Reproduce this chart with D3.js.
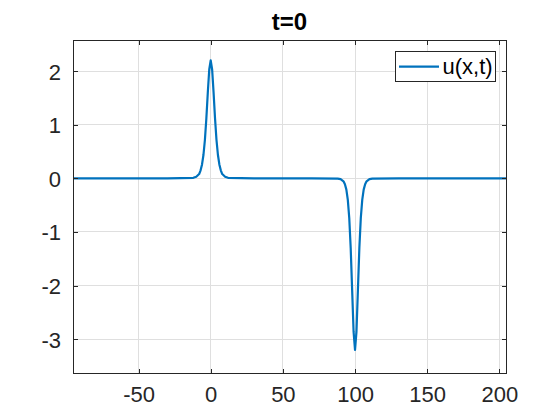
<!DOCTYPE html>
<html>
<head>
<meta charset="utf-8">
<script src="https://cdn.jsdelivr.net/npm/d3@7"></script>
<style>
  body { margin: 0; background: #fff; }
  svg { display: block; font-family: "Liberation Sans", Arial, sans-serif; }
</style>
</head>
<body>
<svg id="chart"></svg>
<script>
const titleText = "t=0"
const legendLabel = "u(x,t)"
const xTicks = [-50, 0, 50, 100, 150, 200]
const yTicks = [-3, -2, -1, 0, 1, 2]
const xPoints = [-95.4, -30, -12, -10, -8, -7, -6, -5, -4, -3, -2, -1, 0, 1, 2, 3, 4, 5, 6, 7, 8, 10, 12, 30,
                 70, 88, 90, 92, 93, 94, 95, 96, 97, 98, 99, 100, 101, 102, 103, 104, 105, 106, 107, 108, 110, 112, 130, 204.6]
const uValues = [0, 0, 0.01, 0.03, 0.08, 0.15, 0.26, 0.44, 0.72, 1.12, 1.60, 2.03, 2.20, 2.03, 1.60, 1.12, 0.72, 0.44, 0.26, 0.15, 0.08, 0.03, 0.01, 0,
                 0, -0.004, -0.014, -0.055, -0.11, -0.21, -0.40, -0.74, -1.30, -2.08, -2.86, -3.20, -2.86, -2.08, -1.30, -0.74, -0.40, -0.21, -0.11, -0.055, -0.014, -0.004, 0, 0]

const data = xPoints.map((x, i) => ({ x: x, u: uValues[i] }))

// Canvas and axes box (MATLAB-like figure)
const W = 560, H = 420
const box = { left: 73, right: 506, top: 40, bottom: 373 }
const axisColor = "#262626"
const gridColor = "#dfdfdf"
const lineColor = "#0072bd"
const fontSize = 22
const tickLen = 4.5
const plainFormat = d => String(d)   // keeps the ASCII hyphen, no decimals

const svg = d3.select("#chart").attr("width", W).attr("height", H)

const xScale = d3.scaleLinear().domain([-95.4, 204.6]).range([box.left, box.right])
const yScale = d3.scaleLinear().domain([-3.63, 2.58]).range([box.bottom, box.top])

// Grid lines
svg.append("g").selectAll("line").data(xTicks).enter().append("line")
    .attr("x1", d => xScale(d)).attr("x2", d => xScale(d))
    .attr("y1", box.top).attr("y2", box.bottom)
    .attr("stroke", gridColor).attr("stroke-width", 1)
    .attr("shape-rendering", "crispEdges")
svg.append("g").selectAll("line").data(yTicks).enter().append("line")
    .attr("x1", box.left).attr("x2", box.right)
    .attr("y1", d => yScale(d)).attr("y2", d => yScale(d))
    .attr("stroke", gridColor).attr("stroke-width", 1)
    .attr("shape-rendering", "crispEdges")

// Data line
const line = d3.line().x(d => xScale(d.x)).y(d => yScale(d.u))
svg.append("path")
    .datum(data)
    .attr("d", line)
    .attr("fill", "none")
    .attr("stroke", lineColor)
    .attr("stroke-width", 2.2)
    .attr("stroke-linejoin", "round")

// Axes: bottom/left with labels, top/right ticks only (inward ticks)
const xAxis = d3.axisBottom(xScale).tickValues(xTicks).tickFormat(plainFormat).tickSizeInner(-tickLen).tickSizeOuter(0).tickPadding(12)
const yAxis = d3.axisLeft(yScale).tickValues(yTicks).tickFormat(plainFormat).tickSizeInner(-tickLen).tickSizeOuter(0).tickPadding(12)
const xAxisTop = d3.axisTop(xScale).tickValues(xTicks).tickSizeInner(-tickLen).tickSizeOuter(0).tickFormat("")
const yAxisRight = d3.axisRight(yScale).tickValues(yTicks).tickSizeInner(-tickLen).tickSizeOuter(0).tickFormat("")

const styleAxis = g => {
    g.select(".domain").remove()
    g.selectAll("line").attr("stroke", axisColor).attr("shape-rendering", "crispEdges")
    g.selectAll("text").attr("fill", axisColor).attr("font-size", fontSize)
        .attr("font-family", "'Liberation Sans', Arial, sans-serif")
}

svg.append("g").attr("transform", "translate(0," + box.bottom + ")").call(xAxis).call(styleAxis)
    .selectAll("text").attr("dy", "0.78em")
svg.append("g").attr("transform", "translate(" + box.left + ",0)").call(yAxis).call(styleAxis)
    .selectAll("text").attr("dy", "0.36em")
svg.append("g").attr("transform", "translate(0," + box.top + ")").call(xAxisTop).call(styleAxis)
svg.append("g").attr("transform", "translate(" + box.right + ",0)").call(yAxisRight).call(styleAxis)

// Axes box
svg.append("rect")
    .attr("x", box.left + 0.5).attr("y", box.top + 0.5)
    .attr("width", box.right - box.left).attr("height", box.bottom - box.top)
    .attr("fill", "none").attr("stroke", axisColor).attr("stroke-width", 1)

// Title
svg.append("text")
    .attr("x", (box.left + box.right) / 2)
    .attr("y", 29.5)
    .attr("text-anchor", "middle")
    .attr("font-size", 24)
    .attr("font-weight", "bold")
    .attr("fill", "#000")
    .text(titleText)

// Legend
const legend = svg.append("g")
legend.append("rect")
    .attr("x", 395.5).attr("y", 51.5).attr("width", 100).attr("height", 30)
    .attr("fill", "#fff").attr("stroke", axisColor).attr("stroke-width", 1)
legend.append("line")
    .attr("x1", 399).attr("x2", 439).attr("y1", 66.7).attr("y2", 66.7)
    .attr("stroke", lineColor).attr("stroke-width", 2.2)
legend.append("text")
    .attr("x", 442.5).attr("y", 66.7).attr("dy", "0.35em")
    .attr("font-size", fontSize).attr("fill", "#000")
    .text(legendLabel)
</script>
</body>
</html>
